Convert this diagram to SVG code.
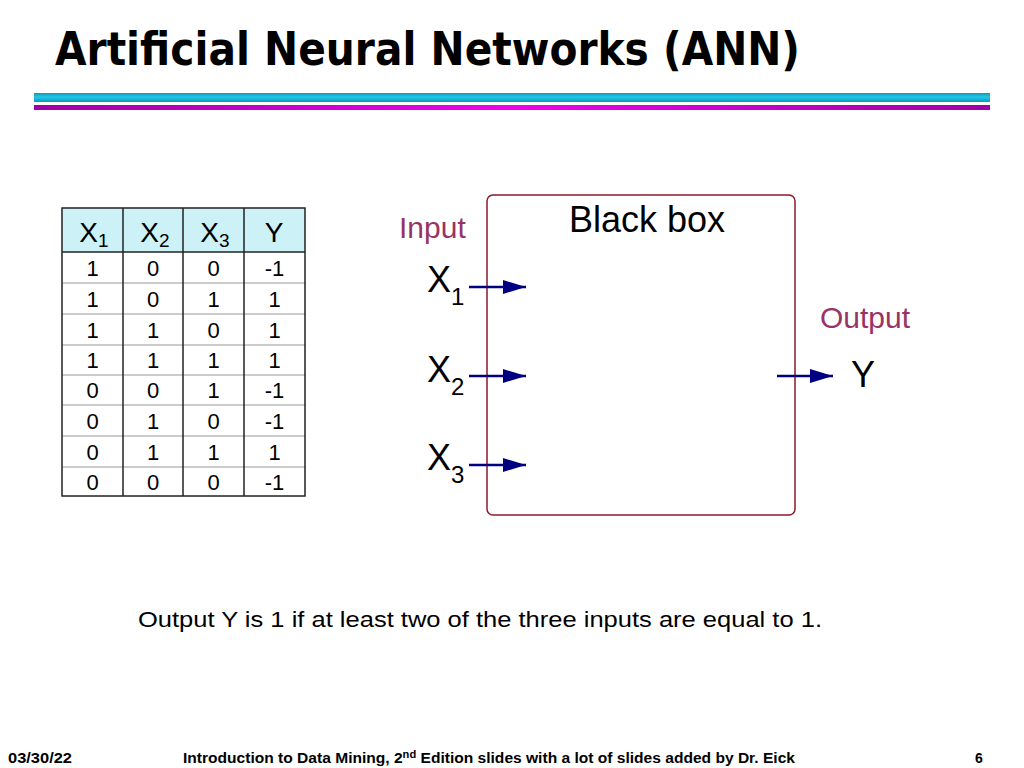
<svg xmlns="http://www.w3.org/2000/svg" width="1024" height="768" viewBox="0 0 1024 768">
<defs>
<linearGradient id="cy" x1="0" y1="0" x2="0" y2="1">
<stop offset="0" stop-color="#1098B8"/>
<stop offset="0.45" stop-color="#20C8E8"/>
<stop offset="1" stop-color="#1098B8"/>
</linearGradient>
<linearGradient id="mg" x1="0" y1="0" x2="1" y2="0">
<stop offset="0" stop-color="#A000A8"/>
<stop offset="0.5" stop-color="#F000F0"/>
<stop offset="1" stop-color="#A000A8"/>
</linearGradient>
<marker id="ah" markerWidth="24" markerHeight="14" refX="23" refY="7" orient="auto" markerUnits="userSpaceOnUse">
<path d="M0,0 L23,7 L0,14 Z" fill="#000080"/>
</marker>
<style>
.t{font-family:"Liberation Sans",Arial,sans-serif;fill:#000}
.hd{font-size:28px}
.cell{font-size:22px}
.sub{font-size:19px}
.big{font-size:36px}
.bsub{font-size:24px}
.lab{font-size:30px;fill:#993366}
.grid{stroke:#999;stroke-width:1}
.dark{stroke:#222;stroke-width:1.5}
.conn{stroke:#000080;stroke-width:2.5;fill:none}
.foot{font-family:"Liberation Sans",Arial,sans-serif;font-size:14px;font-weight:bold;fill:#000}
</style>
</defs>
<rect width="1024" height="768" fill="#fff"/>
<text x="55" y="65" font-family="DejaVu Sans,Verdana,sans-serif" font-weight="bold" font-size="46" textLength="745" lengthAdjust="spacingAndGlyphs">Artificial Neural Networks (ANN)</text>
<rect x="34" y="93" width="956" height="9" fill="url(#cy)"/>
<rect x="34" y="105" width="956" height="5" fill="url(#mg)"/>

<g id="table">
<rect x="62" y="208" width="243" height="44" fill="#CCF2F8"/>
<g class="grid">
<line x1="62" y1="283" x2="305" y2="283"/>
<line x1="62" y1="314" x2="305" y2="314"/>
<line x1="62" y1="345" x2="305" y2="345"/>
<line x1="62" y1="375" x2="305" y2="375"/>
<line x1="62" y1="405" x2="305" y2="405"/>
<line x1="62" y1="436" x2="305" y2="436"/>
<line x1="62" y1="467" x2="305" y2="467"/>
</g>
<g class="dark">
<rect x="62" y="208" width="243" height="288" fill="none"/>
<line x1="62" y1="252" x2="305" y2="252"/>
<line x1="123" y1="208" x2="123" y2="496"/>
<line x1="183" y1="208" x2="183" y2="496"/>
<line x1="244" y1="208" x2="244" y2="496"/>
</g>
<g class="t hd" text-anchor="middle">
<text x="94" y="242">X<tspan class="sub" dy="5">1</tspan></text>
<text x="155" y="242">X<tspan class="sub" dy="5">2</tspan></text>
<text x="215" y="242">X<tspan class="sub" dy="5">3</tspan></text>
<text x="274" y="242">Y</text>
</g>
<g class="t cell" text-anchor="middle">
<text x="92.5" y="276">1</text><text x="153" y="276">0</text><text x="213.5" y="276">0</text><text x="274.5" y="276">-1</text>
<text x="92.5" y="307">1</text><text x="153" y="307">0</text><text x="213.5" y="307">1</text><text x="274.5" y="307">1</text>
<text x="92.5" y="338">1</text><text x="153" y="338">1</text><text x="213.5" y="338">0</text><text x="274.5" y="338">1</text>
<text x="92.5" y="368">1</text><text x="153" y="368">1</text><text x="213.5" y="368">1</text><text x="274.5" y="368">1</text>
<text x="92.5" y="398">0</text><text x="153" y="398">0</text><text x="213.5" y="398">1</text><text x="274.5" y="398">-1</text>
<text x="92.5" y="429">0</text><text x="153" y="429">1</text><text x="213.5" y="429">0</text><text x="274.5" y="429">-1</text>
<text x="92.5" y="460">0</text><text x="153" y="460">1</text><text x="213.5" y="460">1</text><text x="274.5" y="460">1</text>
<text x="92.5" y="490">0</text><text x="153" y="490">0</text><text x="213.5" y="490">0</text><text x="274.5" y="490">-1</text>
</g>
</g>

<g id="blackbox">
<rect x="487" y="195" width="308" height="320" rx="6" fill="none" stroke="#8B1A2A" stroke-width="1.5"/>
<text class="t" x="647" y="232" font-size="36" text-anchor="middle">Black box</text>
</g>
<g id="input-label"><text class="t lab" x="399" y="238">Input</text></g>
<g id="x1"><text class="t big" x="427" y="292">X<tspan class="bsub" dy="13">1</tspan></text></g>
<g id="x2"><text class="t big" x="427" y="382">X<tspan class="bsub" dy="13">2</tspan></text></g>
<g id="x3"><text class="t big" x="427" y="470">X<tspan class="bsub" dy="13">3</tspan></text></g>
<g id="output-label"><text class="t lab" x="820" y="328">Output</text></g>
<g id="y"><text class="t big" x="851" y="387">Y</text></g>

<g id="connectors">
<line class="conn" x1="469" y1="287" x2="526" y2="287" marker-end="url(#ah)"/>
<line class="conn" x1="469" y1="376" x2="526" y2="376" marker-end="url(#ah)"/>
<line class="conn" x1="469" y1="465" x2="526" y2="465" marker-end="url(#ah)"/>
<line class="conn" x1="777" y1="376" x2="833" y2="376" marker-end="url(#ah)"/>
</g>

<text class="t" x="138" y="627" font-size="22" textLength="684" lengthAdjust="spacingAndGlyphs">Output Y is 1 if at least two of the three inputs are equal to 1.</text>

<text class="foot" x="8" y="763" textLength="64" lengthAdjust="spacingAndGlyphs">03/30/22</text>
<text class="foot" x="183" y="763" textLength="612" lengthAdjust="spacingAndGlyphs">Introduction to Data Mining, 2<tspan font-size="10" dy="-5">nd</tspan><tspan dy="5"> Edition slides with a lot of slides added by Dr. Eick</tspan></text>
<text class="foot" x="975" y="763">6</text>
</svg>
